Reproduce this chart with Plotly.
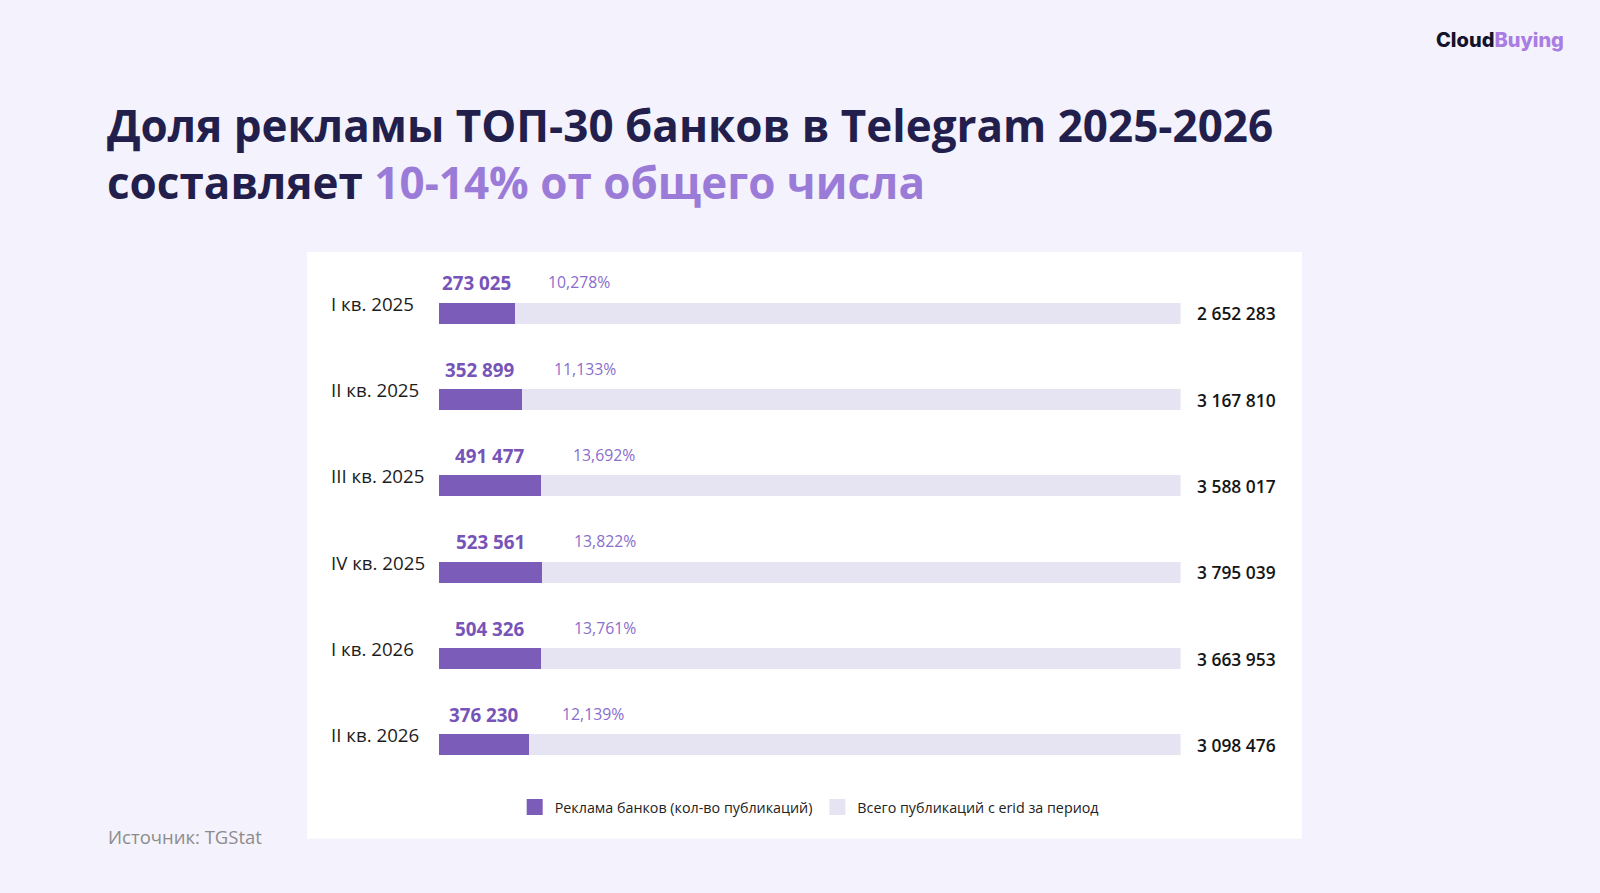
import plotly.graph_objects as go

# Quarter labels, bank ad counts, share of all erid posts, totals
quarters = ["I кв. 2025", "II кв. 2025", "III кв. 2025", "IV кв. 2025", "I кв. 2026", "II кв. 2026"]
bank_ads = [273025, 352899, 491477, 523561, 504326, 376230]
share_pct = [10.278, 11.133, 13.692, 13.822, 13.761, 12.139]
totals = [2652283, 3167810, 3588017, 3795039, 3663953, 3098476]

W, H = 1600, 893
S = 1600 / 1568  # positions were measured on a 1568 px wide copy of the slide
PURPLE = "#7b5cb9"
TRACK = "#e6e4f2"
NAVY = "#221f4d"


def px(x):
    return x * S / W


def py(y):
    return 1 - y * S / H


def fmt_int(v):
    return f"{v:,}".replace(",", " ")


def fmt_pct(v):
    return f"{v:.3f}".replace(".", ",") + "%"


fig = go.Figure()

# grey track = total for the period (100%)
fig.add_trace(go.Bar(
    y=quarters, x=[100 for _ in totals], orientation="h",
    name="Всего публикаций с erid за период", showlegend=False,
    marker=dict(color=TRACK, line_width=0), width=0.24,
    hoverinfo="skip",
))
fig.add_trace(go.Bar(
    y=quarters, x=share_pct, orientation="h",
    name="Реклама банков (кол-во публикаций)", showlegend=False,
    marker=dict(color=PURPLE, line_width=0), width=0.24,
    hoverinfo="skip",
))
# legend entries with bigger square swatches
for name, col in [("Реклама банков (кол-во публикаций)", PURPLE),
                  ("Всего публикаций с erid за период", TRACK)]:
    fig.add_trace(go.Scatter(x=[None], y=[None], mode="markers", name=name,
                             marker=dict(symbol="square", size=18, color=col)))

font_main = "Open Sans"
ann = []
for q, n, s, t in zip(quarters, bank_ads, share_pct, totals):
    ann.append(dict(x=px(322), xref="paper", y=q, yref="y", yshift=10,
                    text=q, showarrow=False, xanchor="left",
                    font=dict(family=font_main, size=18.7, color="#1c1c1c")))
    ann.append(dict(x=s / 2, xref="x", y=q, yref="y", yshift=30,
                    text=f"<b>{fmt_int(n)}</b>", showarrow=False, xanchor="center",
                    font=dict(family=font_main, size=18.8, color="#7654b8")))
    ann.append(dict(x=s, xref="x", y=q, yref="y", yshift=31, xshift=31,
                    text=fmt_pct(s), showarrow=False, xanchor="left",
                    font=dict(family=font_main, size=15.8, color="#8a6dcc")))
    ann.append(dict(x=100, xref="x", y=q, yref="y", xshift=14,
                    text=fmt_int(t), showarrow=False, xanchor="left",
                    font=dict(family=font_main, size=17.4, color="#151515", weight=600)))

# title
ann.append(dict(x=px(103), y=py(150), xref="paper", yref="paper",
                xanchor="left", yanchor="middle", align="left", showarrow=False,
                text="<b>Доля рекламы ТОП-30 банков в Telegram 2025-2026<br>"
                     "составляет <span style='color:#9b7bd8'>10-14% от общего числа</span></b>",
                font=dict(family=font_main, size=44, color=NAVY)))
# logo
ann.append(dict(x=px(1535), y=py(39), xref="paper", yref="paper",
                xanchor="right", yanchor="middle", showarrow=False,
                text="Cloud<span style='color:#a97de3'>Buying</span>",
                font=dict(family="Inter", size=20, color="#13132b", weight=800)))
# source
ann.append(dict(x=px(104), y=py(820), xref="paper", yref="paper",
                xanchor="left", yanchor="middle", showarrow=False,
                text="Источник: TGStat",
                font=dict(family=font_main, size=18.5, color="#8c8c8c")))

fig.update_layout(
    width=W, height=H,
    paper_bgcolor="#f4f2fc", plot_bgcolor="rgba(0,0,0,0)",
    margin=dict(l=0, r=0, t=0, b=0),
    barmode="overlay", bargap=0,
    xaxis=dict(domain=[px(430), px(1157)], range=[0, 100], visible=False, fixedrange=True),
    yaxis=dict(domain=[py(772.3), py(264.7)], range=[5.5, -0.5], visible=False,
               categoryorder="array", categoryarray=quarters, fixedrange=True),
    shapes=[dict(type="rect", xref="paper", yref="paper", layer="below",
                 x0=px(301), x1=px(1276), y0=py(822), y1=py(247),
                 fillcolor="white", line_width=0)],
    annotations=ann,
    showlegend=True,
    legend=dict(orientation="h", x=px(793), xanchor="center", y=py(791), yanchor="middle",
                bgcolor="rgba(0,0,0,0)", itemwidth=30,
                font=dict(family=font_main, size=14.3, color="#222222")),
)

fig.write_html("out.html", config={"displayModeBar": False},
               post_script="document.body.style.margin='0';document.body.style.overflow='hidden';")
